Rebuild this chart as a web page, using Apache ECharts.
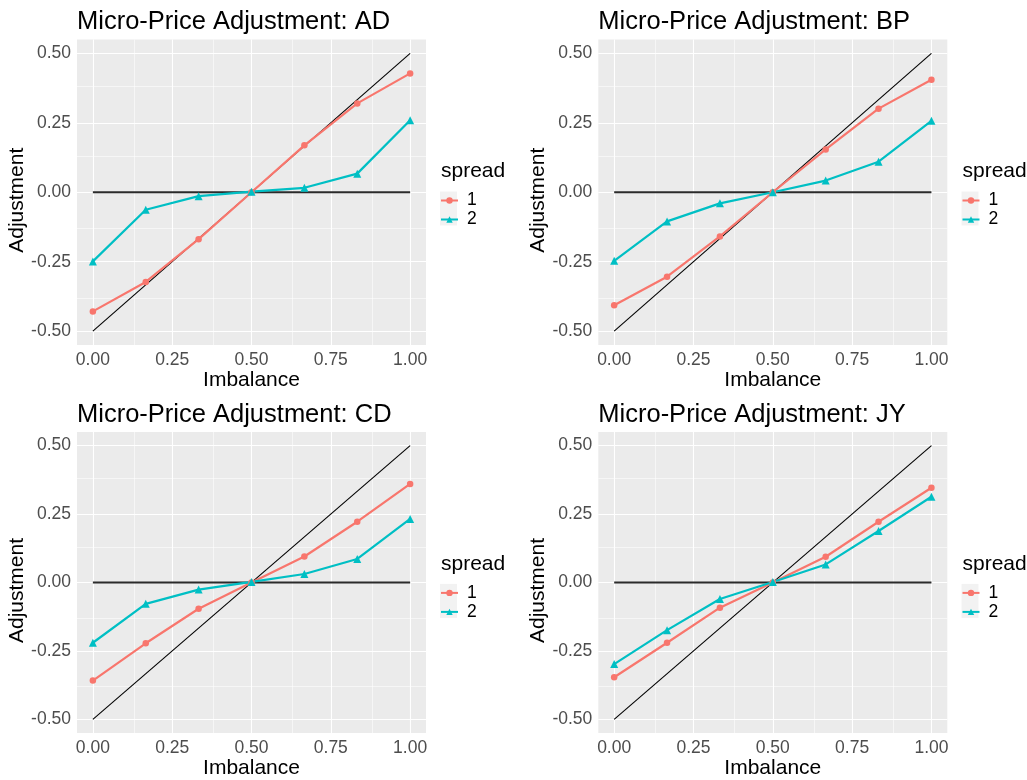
<!DOCTYPE html>
<html>
<head>
<meta charset="utf-8">
<script src="https://cdn.jsdelivr.net/npm/echarts@6/dist/echarts.min.js"></script>
<style>
html,body{margin:0;padding:0;background:#fff;}
#chart{width:1027px;height:780px;}
</style>
</head>
<body>
<div id="chart"></div>
<script>
// ---- data ----
const panelNames = ['AD', 'BP', 'CD', 'JY'];
const imbalance = [0, 0.1667, 0.3333, 0.5, 0.6667, 0.8333, 1];
const adSpread1 = [-0.429, -0.323, -0.169, 0, 0.169, 0.320, 0.428];
const adSpread2 = [-0.249, -0.063, -0.014, 0.002, 0.016, 0.067, 0.259];
const bpSpread1 = [-0.407, -0.304, -0.159, 0, 0.154, 0.301, 0.405];
const bpSpread2 = [-0.247, -0.105, -0.040, 0, 0.042, 0.110, 0.257];
const cdSpread1 = [-0.358, -0.222, -0.096, 0, 0.095, 0.222, 0.360];
const cdSpread2 = [-0.220, -0.078, -0.026, 0.002, 0.031, 0.086, 0.232];
const jySpread1 = [-0.346, -0.220, -0.092, 0, 0.094, 0.222, 0.346];
const jySpread2 = [-0.298, -0.174, -0.060, 0.002, 0.066, 0.188, 0.313];
const spreadLabels = ['1', '2'];
const diagX = [0, 1];
const diagY = [-0.5, 0.5];
const zeroX = [0, 1];
const zeroY = [0, 0];
const xTicks = [0, 0.25, 0.5, 0.75, 1];
const yTicks = [-0.5, -0.25, 0, 0.25, 0.5];
const xMinor = [0.125, 0.375, 0.625, 0.875];
const yMinor = [-0.375, -0.125, 0.125, 0.375];
const xRange = [-0.05, 1.05];
const yRange = [-0.55, 0.55];

const s1 = [adSpread1, bpSpread1, cdSpread1, jySpread1];
const s2 = [adSpread2, bpSpread2, cdSpread2, jySpread2];

// ---- layout ----
const FONT = "'Liberation Sans', Arial, sans-serif";
const RED = '#F8766D', TEAL = '#00BFC4';
const panels = [
  {left: 77, top: 39.5, legendLeft: 440},
  {left: 598.3, top: 39.5, legendLeft: 961.5},
  {left: 77, top: 431.9, legendLeft: 440},
  {left: 598.3, top: 431.9, legendLeft: 961.5}
];
const PW = 349, PH = 305.5;

const zip = (xs, ys) => xs.map((x, i) => [x, ys[i]]);

const option = {
  animation: false,
  backgroundColor: '#ffffff',
  title: [], legend: [], grid: [], xAxis: [], yAxis: [], series: [], graphic: []
};

panels.forEach((p, i) => {
  const dy = p.top - 39.5;
  option.title.push({
    text: 'Micro-Price Adjustment: ' + panelNames[i],
    left: p.left, top: 9.4 + dy, padding: 0,
    textStyle: {fontFamily: FONT, fontSize: 25.5, fontWeight: 'normal', color: '#000'}
  });
  option.title.push({
    text: 'spread',
    left: p.legendLeft + 1, top: 161 + dy, padding: 0,
    textStyle: {fontFamily: FONT, fontSize: 21, fontWeight: 'normal', color: '#000'}
  });
  option.legend.push({
    data: spreadLabels,
    orient: 'vertical',
    left: p.legendLeft, top: 191.5 + dy, padding: 0,
    itemWidth: 17, itemHeight: 8, itemGap: 1,
    selectedMode: false,
    textStyle: {fontFamily: FONT, fontSize: 17.5, color: '#000', padding: [0, 0, 0, 4]}
  });
  option.graphic.push({
    type: 'rect', z: -1, silent: true,
    shape: {x: p.legendLeft, y: 191.5 + dy, width: 17, height: 34},
    style: {fill: '#F2F2F2'}
  });
  option.grid.push({
    left: p.left, top: p.top, width: PW, height: PH,
    show: true, backgroundColor: '#EBEBEB', borderWidth: 0, containLabel: false
  });
  option.xAxis.push({
    type: 'value', gridIndex: i, min: xRange[0], max: xRange[1],
    name: 'Imbalance', nameLocation: 'middle', nameGap: 23,
    nameTextStyle: {fontFamily: FONT, fontSize: 21, color: '#000'},
    axisLine: {show: false},
    axisTick: {show: true, customValues: xTicks, length: 4, lineStyle: {color: '#333', width: 1}},
    axisLabel: {customValues: xTicks, margin: 6, fontFamily: FONT, fontSize: 17.5, color: '#4D4D4D',
      formatter: v => v.toFixed(2)},
    splitLine: {show: false}
  });
  option.yAxis.push({
    type: 'value', gridIndex: i, min: yRange[0], max: yRange[1],
    name: 'Adjustment', nameLocation: 'middle', nameGap: 48,
    nameTextStyle: {fontFamily: FONT, fontSize: 21, color: '#000', padding: [0, 16, 0, 0]},
    axisLine: {show: false},
    axisTick: {show: true, customValues: yTicks, length: 4, lineStyle: {color: '#333', width: 1}},
    axisLabel: {customValues: yTicks, margin: 6, fontFamily: FONT, fontSize: 17.5, color: '#4D4D4D',
      formatter: v => v.toFixed(2)},
    splitLine: {show: false}
  });
  // grid lines (minor + major) drawn through the axes' scales
  const ml = (arr, key, w) => arr.map(v => ({[key]: v, lineStyle: {color: '#ffffff', width: w, type: 'solid'}}));
  option.series.push({
    type: 'line', xAxisIndex: i, yAxisIndex: i, data: [], z: 1, silent: true,
    markLine: {
      z: 1, silent: true, symbol: ['none', 'none'], label: {show: false}, animation: false,
      emphasis: {disabled: true},
      data: [].concat(ml(xMinor, 'xAxis', 0.55), ml(yMinor, 'yAxis', 0.55),
                      ml(xTicks, 'xAxis', 1.1), ml(yTicks, 'yAxis', 1.1))
    }
  });
  option.series.push({
    type: 'line', xAxisIndex: i, yAxisIndex: i, data: zip(zeroX, zeroY), z: 2, silent: true,
    symbol: 'none', lineStyle: {color: '#2b2b2b', width: 2}
  });
  option.series.push({
    type: 'line', xAxisIndex: i, yAxisIndex: i, data: zip(diagX, diagY), z: 2, silent: true,
    symbol: 'none', lineStyle: {color: '#000000', width: 1.1}
  });
  option.series.push({
    name: spreadLabels[0], type: 'line', xAxisIndex: i, yAxisIndex: i, z: 3,
    data: zip(imbalance, s1[i]),
    symbol: 'circle', symbolSize: 6.5, showAllSymbol: true,
    lineStyle: {color: RED, width: 2.2}, itemStyle: {color: RED, borderWidth: 0}
  });
  option.series.push({
    name: spreadLabels[1], type: 'line', xAxisIndex: i, yAxisIndex: i, z: 3,
    data: zip(imbalance, s2[i]),
    symbol: 'triangle', symbolSize: 8, showAllSymbol: true,
    lineStyle: {color: TEAL, width: 2.2}, itemStyle: {color: TEAL, borderWidth: 0}
  });
});

const chart = echarts.init(document.getElementById('chart'), null, {renderer: 'canvas'});
chart.setOption(option);
</script>
</body>
</html>
